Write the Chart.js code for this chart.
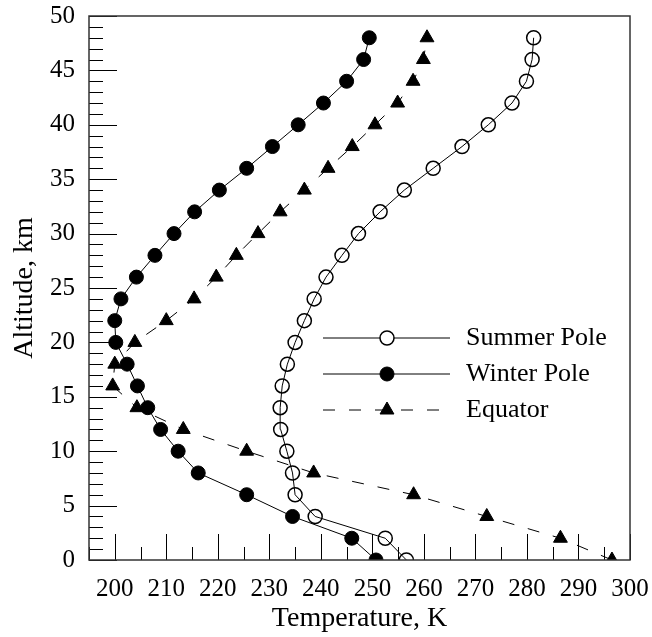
<!DOCTYPE html>
<html>
<head>
<meta charset="utf-8">
<script src="https://cdn.jsdelivr.net/npm/chart.js@4.4.0/dist/chart.umd.min.js"></script>
<style>
html, body { margin: 0; padding: 0; background: #fff; }
</style>
</head>
<body>
<canvas id="ex_chart" width="652" height="637"></canvas>
<script>
var altitudes = [0, 2, 4, 6, 8, 10, 12, 14, 16, 18, 20, 22, 24, 26, 28, 30, 32, 34, 36, 38, 40, 42, 44, 46, 48];
var summerPole = [256.6, 252.5, 238.9, 235.0, 234.5, 233.4, 232.2, 232.1, 232.5, 233.5, 235.0, 236.8, 238.7,
    241.0, 244.1, 247.3, 251.5, 256.2, 261.8, 267.4, 272.5, 277.1, 279.9, 281.0, 281.3];
var winterPole = [250.7, 246.0, 234.5, 225.6, 216.2, 212.3, 208.9, 206.4, 204.4, 202.4, 200.2, 200.0, 201.2,
    204.2, 207.8, 211.5, 215.5, 220.3, 225.6, 230.6, 235.6, 240.5, 245.0, 248.3, 249.4];
var equator = [296.5, 286.5, 272.2, 258.0, 238.6, 225.6, 213.3, 204.3, 199.6, 200.0, 203.9, 210.0, 215.4,
    219.7, 223.6, 227.8, 232.1, 236.8, 241.4, 246.1, 250.5, 254.9, 257.9, 259.9, 260.6];
var seriesNames = ["Summer Pole", "Winter Pole", "Equator"];
var xTickLabels = [200, 210, 220, 230, 240, 250, 260, 270, 280, 290, 300];
var yTickLabels = [0, 5, 10, 15, 20, 25, 30, 35, 40, 45, 50];

var serif = '"Liberation Serif", "Times New Roman", serif';

function ToPoints(temps) {
    var values = [];
    for (var i = 0; i < temps.length; i++) {
        values.push({ x: temps[i], y: altitudes[i] });
    }
    return values;
}

// frame and inward ticks (major + minor)
var frameTicks = {
    id: 'frameTicks',
    afterDraw: function (chart) {
        var ctx = chart.ctx, a = chart.chartArea;
        var xs = chart.scales.x, ys = chart.scales.y;
        ctx.save();
        ctx.setLineDash([]);
        ctx.strokeStyle = '#000';
        ctx.lineWidth = 1;
        ctx.beginPath();
        for (var v = 195; v <= 300; v += 5) {
            var px = Math.round(xs.getPixelForValue(v)) + 0.5;
            var len = v % 10 === 0 ? 26 : 13;
            ctx.moveTo(px, a.bottom);
            ctx.lineTo(px, a.bottom - len);
        }
        for (var k = 0; k <= 50; k++) {
            var py = Math.round(ys.getPixelForValue(k)) + 0.5;
            var len2 = k % 5 === 0 ? 28 : 14;
            ctx.moveTo(a.left, py);
            ctx.lineTo(a.left + len2, py);
        }
        ctx.stroke();
        ctx.strokeStyle = '#333';
        ctx.lineWidth = 1.5;
        ctx.strokeRect(a.left, a.top, a.right - a.left, a.bottom - a.top);
        ctx.restore();
    }
};

// legend with line sample and marker
var lineLegend = {
    id: 'lineLegend',
    afterDraw: function (chart) {
        var ctx = chart.ctx, a = chart.chartArea;
        chart.data.datasets.forEach(function (ds, i) {
            var y = a.top + 322 + i * 36;
            var x0 = a.left + 234;
            ctx.save();
            ctx.strokeStyle = '#000';
            ctx.lineWidth = 1;
            ctx.setLineDash(ds.borderDash || []);
            ctx.beginPath();
            ctx.moveTo(x0, y);
            ctx.lineTo(x0 + 127, y);
            ctx.stroke();
            ctx.setLineDash([]);
            ctx.fillStyle = ds.pointBackgroundColor === 'rgba(0,0,0,0)' ? '#fff' : ds.pointBackgroundColor;
            ctx.lineWidth = ds.pointBorderWidth;
            Chart.helpers.drawPoint(ctx, {
                pointStyle: ds.pointStyle, radius: ds.pointRadius,
                borderWidth: ds.pointBorderWidth, rotation: 0
            }, x0 + 64, y);
            ctx.fillStyle = '#000';
            ctx.font = '26px ' + serif;
            ctx.textBaseline = 'middle';
            ctx.textAlign = 'left';
            ctx.fillText(ds.label, x0 + 143, y);
            ctx.restore();
        });
    }
};

function InitializeGraph() {
    var ctx = document.getElementById('ex_chart');

    var data = {
        datasets: [{
            label: seriesNames[0],
            data: ToPoints(summerPole),
            showLine: true,
            borderColor: '#000',
            borderWidth: 1,
            pointStyle: 'circle',
            pointRadius: 7,
            pointBorderWidth: 1.5,
            pointBorderColor: '#000',
            pointBackgroundColor: 'rgba(0,0,0,0)'
        }, {
            label: seriesNames[1],
            data: ToPoints(winterPole),
            showLine: true,
            borderColor: '#000',
            borderWidth: 1,
            pointStyle: 'circle',
            pointRadius: 7,
            pointBorderWidth: 1,
            pointBorderColor: '#000',
            pointBackgroundColor: '#000'
        }, {
            label: seriesNames[2],
            data: ToPoints(equator),
            showLine: true,
            borderColor: '#000',
            borderWidth: 1,
            borderDash: [12, 14],
            pointStyle: 'triangle',
            pointRadius: 8,
            pointBorderWidth: 1,
            pointBorderColor: '#000',
            pointBackgroundColor: '#000'
        }]
    };

    var ex_chart = new Chart(ctx, {
        type: 'scatter',
        data: data,
        options: {
            responsive: false,
            animation: false,
            events: [],
            layout: { padding: { left: 0, top: 16, right: 22, bottom: 0 } },
            plugins: { legend: { display: false }, tooltip: { enabled: false } },
            scales: {
                x: {
                    type: 'linear',
                    min: 195,
                    max: 300,
                    grid: { display: false, drawTicks: false },
                    border: { display: false },
                    ticks: {
                        color: '#000', padding: 14,
                        font: { family: serif, size: 25 }
                    },
                    afterBuildTicks: function (scale) {
                        scale.ticks = xTickLabels.map(function (v) { return { value: v }; });
                    },
                    afterFit: function (scale) {
                        scale.height = 77;
                        scale.paddingLeft = 0;
                        scale.paddingRight = 0;
                    },
                    title: {
                        display: true, text: 'Temperature, K', color: '#000',
                        font: { family: serif, size: 28 }, padding: { top: 0, bottom: 2 }
                    }
                },
                y: {
                    type: 'linear',
                    min: 0,
                    max: 50,
                    grid: { display: false, drawTicks: false },
                    border: { display: false },
                    ticks: {
                        color: '#000', padding: 14,
                        font: { family: serif, size: 25 }
                    },
                    afterBuildTicks: function (scale) {
                        scale.ticks = yTickLabels.map(function (v) { return { value: v }; });
                    },
                    afterFit: function (scale) {
                        scale.width = 89;
                        scale.paddingTop = 0;
                        scale.paddingBottom = 0;
                    },
                    title: {
                        display: true, text: 'Altitude, km', color: '#000',
                        font: { family: serif, size: 28 }, padding: { top: 8, bottom: 0 }
                    }
                }
            }
        },
        plugins: [frameTicks, lineLegend]
    });
}

InitializeGraph();
</script>
</body>
</html>
